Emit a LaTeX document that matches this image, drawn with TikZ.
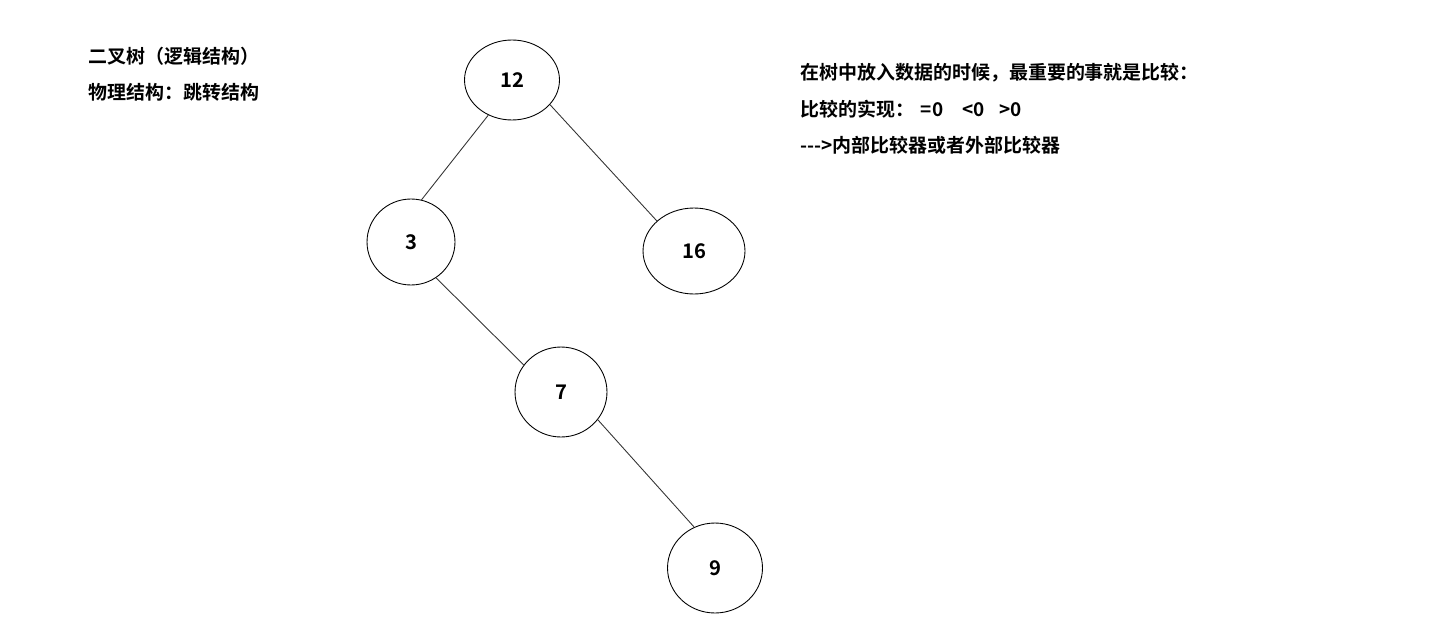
\documentclass[tikz,border=0pt]{standalone}
\usepackage{fontspec}
\newfontfamily\cjk{Noto Sans CJK SC}[BoldFont={Noto Sans CJK SC Bold}]
\usetikzlibrary{shapes.geometric}

\begin{document}
\begin{tikzpicture}[x=0.02cm,y=-0.02cm,
    treenode/.style={draw,ellipse,line width=0.5pt,minimum width=1.9cm,minimum height=1.72cm,font=\cjk\bfseries\fontsize{11.5}{13}\selectfont},
    note/.style={anchor=west,inner sep=0pt,font=\cjk\bfseries\fontsize{10.8}{12}\selectfont},
    edge/.style={line width=0.5pt,black!80}]
    \useasboundingbox (0,0) rectangle (1456,635);
    % Notes
    \node[note] (title) at (88,56) {二叉树（逻辑结构）};
    \node[note] (phys) at (88,92) {物理结构：跳转结构};
    \node[note] (cmp1) at (800,73) {在树中放入数据的时候，最重要的事就是比较：};
    \node[note] (cmp2) at (800,109) {比较的实现：\hspace{0.35em}=0\hspace{1em}<0\hspace{0.8em}>0};
    \node[note] (cmp3) at (800,145) {-{}-{}->内部比较器或者外部比较器};
    % Tree
    \node[treenode,minimum height=1.6cm] (n12) at (512,80) {12};
    \node[treenode,minimum width=1.76cm] (n3) at (411,242) {3};
    \node[treenode,minimum width=2.04cm] (n16) at (694,251) {16};
    \node[treenode,minimum width=1.84cm,minimum height=1.8cm] (n7) at (561,392) {7};
    \node[treenode,minimum height=1.8cm] (n9) at (715,568) {9};
    \draw[edge] (n12.236) -- (n3.76);
    \draw[edge] (n12.327) -- (n16.141);
    \draw[edge] (n3.305) -- (n7.144);
    \draw[edge] (n7.323) -- (n9.117);
\end{tikzpicture}
\end{document}
